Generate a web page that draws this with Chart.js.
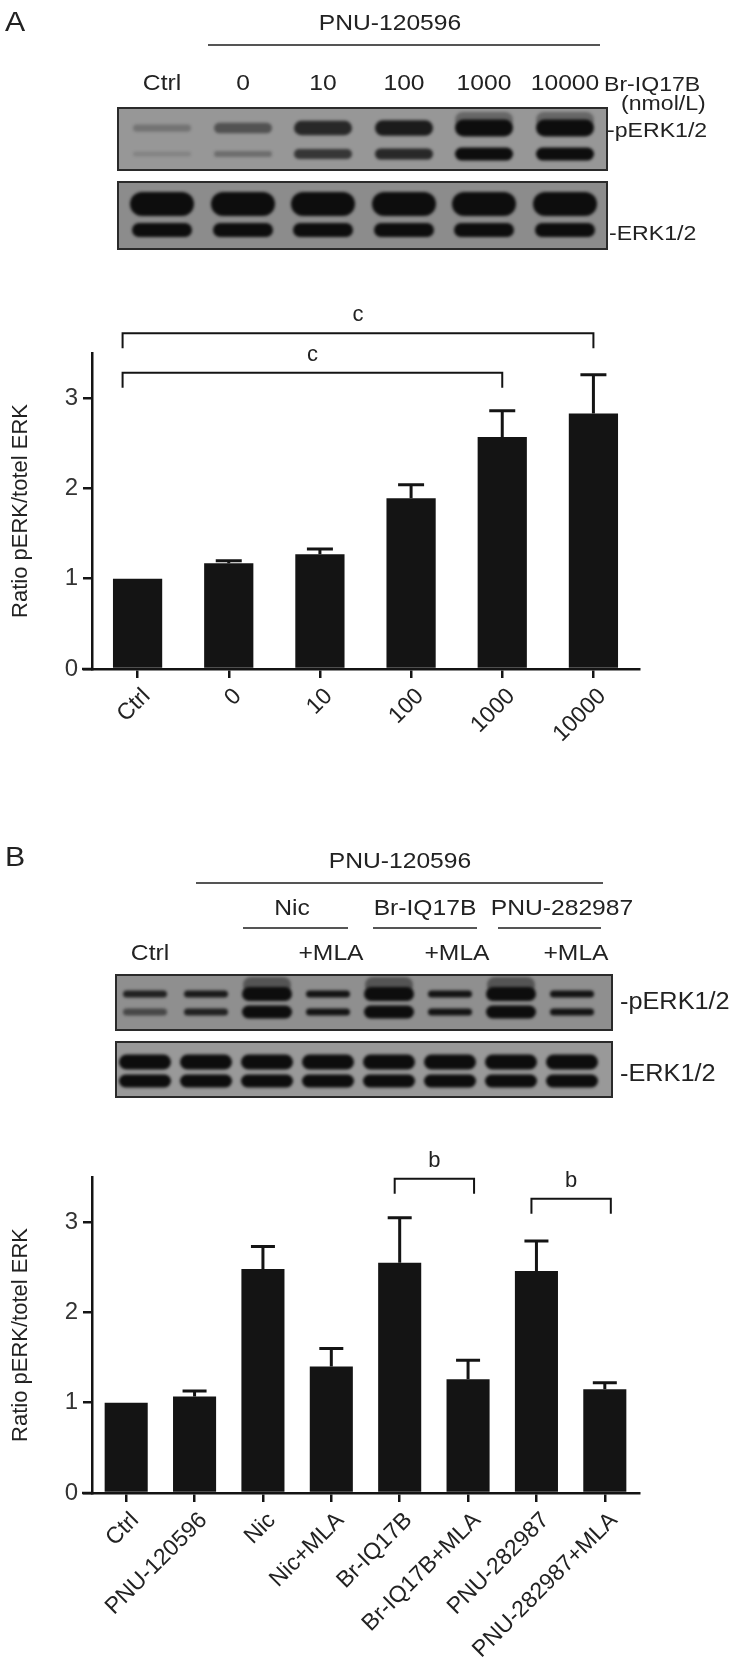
<!DOCTYPE html>
<html>
<head>
<meta charset="utf-8">
<script src="https://cdn.jsdelivr.net/npm/chart.js@4.4.1/dist/chart.umd.min.js"></script>
<style>
  body { margin: 0; background: #fff; }
  #page { position: relative; width: 729px; height: 1670px; overflow: hidden; font-family: "Liberation Sans", Arial, sans-serif; color: #222; }
  .t { position: absolute; transform: translate(-50%, -50%) scaleX(1.12); white-space: nowrap; font-size: 22px; line-height: 1; }
  .r { position: absolute; transform: translateY(-50%) scaleX(1.1); transform-origin: left center; white-space: nowrap; font-size: 21px; line-height: 1; }
  .hr { position: absolute; height: 2px; background: #555; }
  canvas { position: absolute; left: 0; }
</style>
</head>
<body>
<div id="page">
  <canvas id="blots" width="729" height="1670" style="top:0"></canvas>

  <!-- painel A -->
  <div class="t" style="left:15px;top:22px;font-size:27px">A</div>
  <div class="t" style="left:390px;top:23px">PNU-120596</div>
  <div class="hr" style="left:208px;top:44px;width:392px"></div>
  <div class="t" style="left:162px;top:83px">Ctrl</div>
  <div class="t" style="left:243px;top:83px">0</div>
  <div class="t" style="left:323px;top:83px">10</div>
  <div class="t" style="left:404px;top:83px">100</div>
  <div class="t" style="left:484px;top:83px">1000</div>
  <div class="t" style="left:565px;top:83px">10000</div>
  <div class="r" style="left:604px;top:83px">Br-IQ17B</div>
  <div class="r" style="left:621px;top:102px">(nmol/L)</div>
  <div class="r" style="left:607px;top:129px">-pERK1/2</div>
  <div class="r" style="left:609px;top:232px">-ERK1/2</div>
  <canvas id="graficoA" width="729" height="470" style="top:300px"></canvas>

  <!-- painel B -->
  <div class="t" style="left:15px;top:857px;font-size:27px">B</div>
  <div class="t" style="left:400px;top:861px">PNU-120596</div>
  <div class="hr" style="left:196px;top:882px;width:407px"></div>
  <div class="t" style="left:292px;top:908px">Nic</div>
  <div class="t" style="left:425px;top:908px">Br-IQ17B</div>
  <div class="t" style="left:562px;top:908px">PNU-282987</div>
  <div class="hr" style="left:243px;top:927px;width:105px"></div>
  <div class="hr" style="left:373px;top:927px;width:104px"></div>
  <div class="hr" style="left:498px;top:927px;width:103px"></div>
  <div class="t" style="left:150px;top:953px">Ctrl</div>
  <div class="t" style="left:331px;top:953px">+MLA</div>
  <div class="t" style="left:457px;top:953px">+MLA</div>
  <div class="t" style="left:576px;top:953px">+MLA</div>
  <div class="r" style="left:620px;top:1001px;font-size:23px">-pERK1/2</div>
  <div class="r" style="left:620px;top:1073px;font-size:23px">-ERK1/2</div>
  <canvas id="graficoB" width="729" height="560" style="top:1110px"></canvas>
</div>

<script>
// Gráfico A: Br-IQ17B (nmol/L)
const labelsA = ['Ctrl', '0', '10', '100', '1000', '10000'];
const meanA = [1.0, 1.17, 1.27, 1.89, 2.57, 2.83];
const semA = [0, 0.03, 0.06, 0.15, 0.29, 0.43];

// Gráfico B: antagonista MLA
const labelsB = ['Ctrl', 'PNU-120596', 'Nic', 'Nic+MLA', 'Br-IQ17B', 'Br-IQ17B+MLA', 'PNU-282987', 'PNU-282987+MLA'];
const meanB = [1.0, 1.07, 2.48, 1.40, 2.55, 1.26, 2.46, 1.15];
const semB = [0, 0.06, 0.25, 0.20, 0.50, 0.21, 0.33, 0.07];

const yTicks = [0, 1, 2, 3];

// significância: [de, até, altura, texto]
const bracketsA = [[0, 4, 3.28, 'c'], [0, 5, 3.72, 'c']];
const bracketsB = [[4, 5, 3.48, 'b'], [6, 7, 3.26, 'b']];

// intensidade das bandas do western blot (0-1)
const blotA_pUpper = [0.25, 0.5, 0.8, 0.9, 1, 1];
const blotA_pLower = [0.15, 0.3, 0.7, 0.8, 1, 1];
const blotB_pUpper = [0.85, 0.9, 1, 0.95, 1, 0.95, 1, 0.95];
const blotB_pLower = [0.55, 0.85, 1, 0.95, 1, 0.95, 1, 0.95];

const preto = '#141414';
const fonte = '"Liberation Sans", Arial, sans-serif';
Chart.defaults.font.family = fonte;
Chart.defaults.color = '#222';

// ---------------- western blots ----------------
const bctx = document.getElementById('blots').getContext('2d');

function caixa(x, y, w, h, cor) {
    bctx.fillStyle = cor;
    bctx.fillRect(x, y, w, h);
    bctx.strokeStyle = '#2a2a2a';
    bctx.lineWidth = 2;
    bctx.strokeRect(x, y, w, h);
}

function banda(cx, cy, w, h, alpha) {
    bctx.save();
    bctx.filter = 'blur(1.5px)';
    bctx.globalAlpha = alpha;
    bctx.fillStyle = '#0d0d0d';
    bctx.beginPath();
    bctx.roundRect(cx - w / 2, cy - h / 2, w, h, h / 2);
    bctx.fill();
    bctx.restore();
}

const lanesA = [162, 243, 323, 404, 484, 565];
caixa(118, 108, 489, 62, '#979797');
lanesA.forEach((lx, i) => {
    if (i >= 4) banda(lx, 120, 58, 16, 0.35);
    banda(lx, 128, 58, 4 + blotA_pUpper[i] * 13, blotA_pUpper[i]);
    banda(lx, 154, 58, 3 + blotA_pLower[i] * 10, blotA_pLower[i]);
});
caixa(118, 182, 489, 67, '#8c8c8c');
lanesA.forEach(lx => {
    banda(lx, 204, 64, 24, 1);
    banda(lx, 230, 60, 14, 1);
});

const lanesB = [145, 206, 267, 328, 389, 450, 511, 572];
caixa(116, 975, 496, 55, '#8f8f8f');
lanesB.forEach((lx, i) => {
    const forte = i === 2 || i === 4 || i === 6;
    if (forte) banda(lx, 985, 48, 16, 0.45);
    banda(lx, 994, forte ? 50 : 44, forte ? 14 : 7, blotB_pUpper[i]);
    banda(lx, 1012, forte ? 50 : 44, forte ? 13 : 7, blotB_pLower[i]);
});
caixa(116, 1042, 496, 55, '#999999');
lanesB.forEach(lx => {
    banda(lx, 1062, 52, 15, 1);
    banda(lx, 1081, 52, 13, 1);
});

// ---------------- gráficos de barras ----------------
function marcas(means, sems, brackets, cap, desloc) {
    return {
        id: 'marcas',
        afterDatasetsDraw(chart) {
            const { ctx, scales: { x, y } } = chart;
            const meta = chart.getDatasetMeta(0);
            ctx.save();
            ctx.strokeStyle = preto;
            ctx.lineWidth = 3;
            sems.forEach((e, i) => {
                if (!e) return;
                const bar = meta.data[i];
                const top = y.getPixelForValue(means[i] + e);
                ctx.beginPath();
                ctx.moveTo(bar.x, bar.y);
                ctx.lineTo(bar.x, top);
                ctx.moveTo(bar.x - cap / 2, top);
                ctx.lineTo(bar.x + cap / 2, top);
                ctx.stroke();
            });
            // colchetes
            ctx.lineWidth = 2;
            ctx.fillStyle = '#222';
            ctx.font = '22px ' + fonte;
            ctx.textAlign = 'center';
            ctx.textBaseline = 'middle';
            brackets.forEach(b => {
                const x1 = x.getPixelForValue(b[0]) + desloc[0];
                const x2 = x.getPixelForValue(b[1]) + desloc[1];
                const yy = y.getPixelForValue(b[2]);
                ctx.beginPath();
                ctx.moveTo(x1, yy + 15);
                ctx.lineTo(x1, yy);
                ctx.lineTo(x2, yy);
                ctx.lineTo(x2, yy + 15);
                ctx.stroke();
                ctx.fillText(b[3], (x1 + x2) / 2, yy - 18);
            });
            // eixo x passa um pouco para a esquerda do eixo y
            ctx.lineWidth = 2.5;
            ctx.beginPath();
            ctx.moveTo(x.left - 10, y.bottom);
            ctx.lineTo(x.left, y.bottom);
            ctx.stroke();
            ctx.restore();
        }
    };
}

function configBarra(labels, means, barPct, topPad, xHeight, plugin) {
    return {
        type: 'bar',
        data: {
            labels: labels,
            datasets: [{
                data: means,
                backgroundColor: preto,
                borderWidth: 0,
                categoryPercentage: 1,
                barPercentage: barPct
            }]
        },
        options: {
            responsive: false,
            animation: false,
            devicePixelRatio: 1,
            layout: { padding: { top: topPad, right: 90, left: 0, bottom: 0 } },
            plugins: { legend: { display: false }, tooltip: { enabled: false } },
            scales: {
                x: {
                    grid: { drawOnChartArea: false, drawTicks: true, tickLength: 9, offset: false, color: preto, lineWidth: 2.5 },
                    border: { display: true, color: preto, width: 2.5 },
                    ticks: { minRotation: 45, maxRotation: 45, autoSkip: false, padding: 5, labelOffset: 9, color: '#222', font: { size: 23 } },
                    afterFit: function(s) { s.height = xHeight; }
                },
                y: {
                    min: 0,
                    max: 3.5,
                    afterBuildTicks: function(s) { s.ticks = yTicks.map(v => ({ value: v })); },
                    grid: { drawOnChartArea: false, drawTicks: true, tickLength: 9, color: preto, lineWidth: 2.5 },
                    border: { display: true, color: preto, width: 2.5 },
                    ticks: { padding: 5, color: '#333', font: { size: 24 } },
                    title: { display: true, text: 'Ratio pERK/totel ERK', color: '#222', font: { size: 22 }, padding: { top: 8, bottom: 0 } },
                    afterFit: function(s) { s.width = 92; }
                }
            }
        },
        plugins: [plugin]
    };
}

const ctxA = document.getElementById('graficoA').getContext('2d');
const graficoA = new Chart(ctxA, configBarra(labelsA, meanA, 0.54, 53, 101,
    marcas(meanA, semA, bracketsA, 26, [-15, 0])));

const ctxB = document.getElementById('graficoB').getContext('2d');
const graficoB = new Chart(ctxB, configBarra(labelsB, meanB, 0.63, 67, 177,
    marcas(meanB, semB, bracketsB, 24, [-5, 6])));
</script>
</body>
</html>
